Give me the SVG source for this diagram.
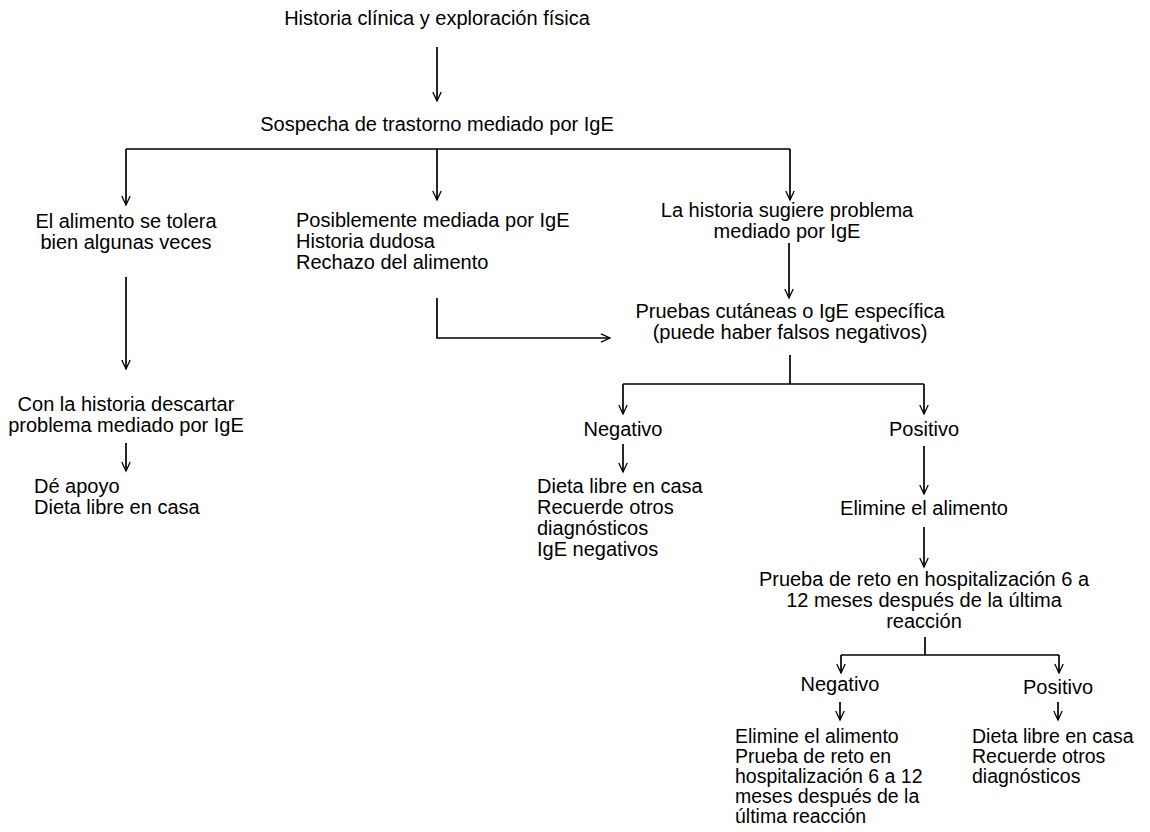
<svg xmlns="http://www.w3.org/2000/svg" width="1150" height="832" viewBox="0 0 1150 832">
<defs>
<marker id="ah" markerUnits="userSpaceOnUse" markerWidth="12" markerHeight="12" viewBox="0 0 12 12" refX="10" refY="6" orient="auto">
<path d="M1,1.8 L10,6 L1,10.2" fill="none" stroke="#000" stroke-width="1.3"/>
</marker>
<style>
text{font-family:"Liberation Sans",Arial,sans-serif;font-size:20px;fill:#000}
.c{text-anchor:middle}
.s{font-size:19.5px}
.ln{fill:none;stroke:#000;stroke-width:1.7}
</style>
</defs>
<rect width="1150" height="832" fill="#fff"/>
<g id="connectors">
<path class="ln" d="M437,47 V101" marker-end="url(#ah)"/>
<path class="ln" d="M126,149 H790"/>
<path class="ln" d="M126,149 V205" marker-end="url(#ah)"/>
<path class="ln" d="M437,149 V200" marker-end="url(#ah)"/>
<path class="ln" d="M790,149 V200" marker-end="url(#ah)"/>
<path class="ln" d="M126,277 V369" marker-end="url(#ah)"/>
<path class="ln" d="M126,443 V471" marker-end="url(#ah)"/>
<path class="ln" d="M437,298 V338 H610" marker-end="url(#ah)"/>
<path class="ln" d="M789,243 V298" marker-end="url(#ah)"/>
<path class="ln" d="M790,355 V384"/>
<path class="ln" d="M623,384 H924"/>
<path class="ln" d="M623,384 V414" marker-end="url(#ah)"/>
<path class="ln" d="M924,384 V414" marker-end="url(#ah)"/>
<path class="ln" d="M623,444 V472" marker-end="url(#ah)"/>
<path class="ln" d="M924,446 V494" marker-end="url(#ah)"/>
<path class="ln" d="M924,527 V567" marker-end="url(#ah)"/>
<path class="ln" d="M925,637 V655"/>
<path class="ln" d="M841,655 H1059"/>
<path class="ln" d="M841,655 V673" marker-end="url(#ah)"/>
<path class="ln" d="M1059,655 V673" marker-end="url(#ah)"/>
<path class="ln" d="M840,702 V720" marker-end="url(#ah)"/>
<path class="ln" d="M1058,702 V720" marker-end="url(#ah)"/>
</g>
<g id="n-historia"><text class="c" x="437" y="25">Historia clínica y exploración física</text></g>
<g id="n-sospecha"><text class="c" x="437" y="131">Sospecha de trastorno mediado por IgE</text></g>
<g id="n-tolera"><text class="c" x="126" y="228">El alimento se tolera</text><text class="c" x="126" y="249">bien algunas veces</text></g>
<g id="n-posible"><text x="296" y="227">Posiblemente mediada por IgE</text><text x="296" y="248">Historia dudosa</text><text x="296" y="269">Rechazo del alimento</text></g>
<g id="n-sugiere"><text class="c" x="787" y="217">La historia sugiere problema</text><text class="c" x="787" y="238">mediado por IgE</text></g>
<g id="n-descartar"><text class="c" x="126" y="411">Con la historia descartar</text><text class="c" x="126" y="432">problema mediado por IgE</text></g>
<g id="n-apoyo"><text x="34" y="493">Dé apoyo</text><text x="34" y="514">Dieta libre en casa</text></g>
<g id="n-pruebas"><text class="c" x="790" y="318">Pruebas cutáneas o IgE específica</text><text class="c" x="790" y="339">(puede haber falsos negativos)</text></g>
<g id="n-neg1"><text class="c" x="623" y="436">Negativo</text></g>
<g id="n-pos1"><text class="c" x="924" y="436">Positivo</text></g>
<g id="n-dieta1"><text x="537" y="493">Dieta libre en casa</text><text x="537" y="514">Recuerde otros</text><text x="537" y="535">diagnósticos</text><text x="537" y="556">IgE negativos</text></g>
<g id="n-elimine"><text class="c" x="924" y="515">Elimine el alimento</text></g>
<g id="n-reto"><text class="c" x="924" y="586">Prueba de reto en hospitalización 6 a</text><text class="c" x="924" y="607">12 meses después de la última</text><text class="c" x="924" y="628">reacción</text></g>
<g id="n-neg2"><text class="c" x="840" y="691">Negativo</text></g>
<g id="n-pos2"><text class="c" x="1058" y="694">Positivo</text></g>
<g id="n-elimine2"><text class="s" x="735" y="743">Elimine el alimento</text><text class="s" x="735" y="763">Prueba de reto en</text><text class="s" x="735" y="783">hospitalización 6 a 12</text><text class="s" x="735" y="803">meses después de la</text><text class="s" x="735" y="823">última reacción</text></g>
<g id="n-dieta2"><text class="s" x="972" y="743">Dieta libre en casa</text><text class="s" x="972" y="763">Recuerde otros</text><text class="s" x="972" y="783">diagnósticos</text></g>
</svg>
